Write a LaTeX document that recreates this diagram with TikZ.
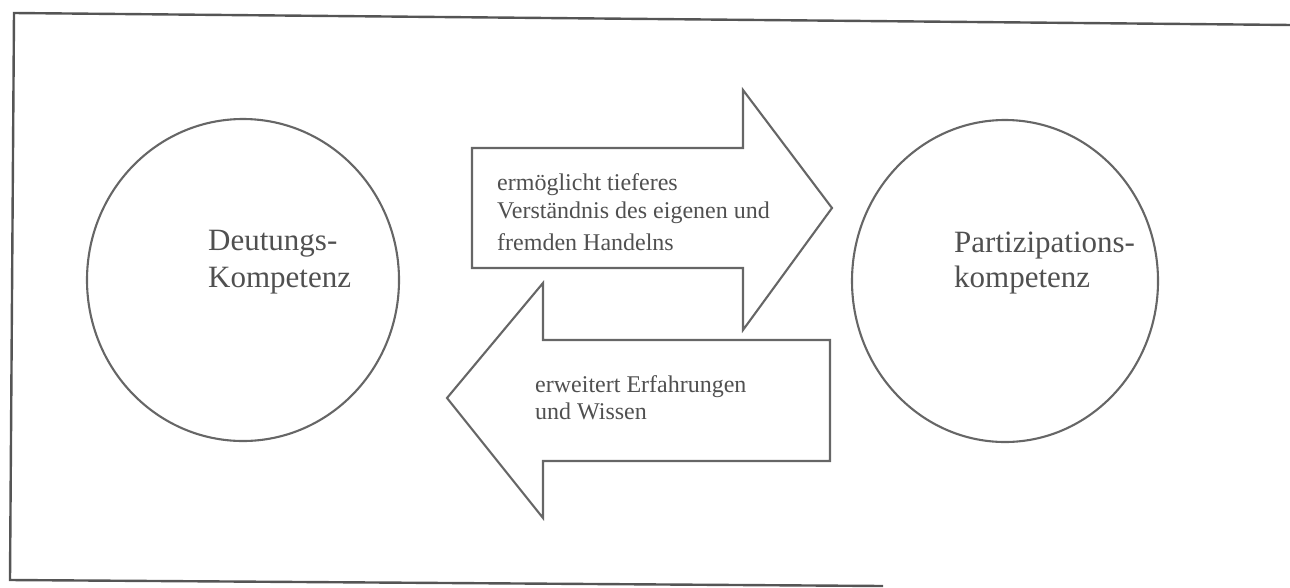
\documentclass[tikz,border=0pt]{standalone}
\usepackage{fontspec}
\setmainfont{Liberation Serif}
\definecolor{linegray}{HTML}{666666}
\definecolor{framegray}{HTML}{555555}
\definecolor{textgray}{HTML}{505050}
\begin{document}
\begin{tikzpicture}[x=1pt,y=-1pt,
  shapeline/.style={draw=linegray,line width=2.1pt,line join=miter},
  framel/.style={draw=framegray,line width=2.4pt},
  bigtext/.style={font=\fontsize{31}{36}\selectfont,text=textgray,anchor=base west,inner sep=0pt},
  smalltext/.style={font=\fontsize{24}{28}\selectfont,text=textgray,anchor=base west,inner sep=0pt}]
\useasboundingbox (0,0) rectangle (1290,587);
% frame
\coordinate (ftr) at (1292,25);
\coordinate (ftl) at (14,13);
\coordinate (fbl) at (10,580);
\coordinate (fbr) at (883,586);
\draw[framel] (ftr) -- (ftl) -- (fbl) -- (fbr);
% circles
\draw[shapeline] (243,280) ellipse [x radius=156, y radius=161];
\draw[shapeline] (1005,281) ellipse [x radius=153, y radius=161];
% right arrow
\draw[shapeline] (472,148) -- (743,148) -- (743,90) -- (832,208) -- (743,330) -- (743,268) -- (472,268) -- cycle;
% left arrow
\draw[shapeline] (447,398) -- (543,283) -- (543,340) -- (830,340) -- (830,461) -- (543,461) -- (543,518) -- cycle;
% texts
\node[bigtext] (d1) at (208,250) {Deutungs-};
\node[bigtext] (d2) at (208,287) {Kompetenz};
\node[bigtext] (p1) at (954,252) {Partizipations-};
\node[bigtext] (p2) at (954,287) {kompetenz};
\node[smalltext] (r1) at (497,190) {ermöglicht tieferes};
\node[smalltext] (r2) at (497,218) {Verständnis des eigenen und};
\node[smalltext] (r3) at (497,250) {fremden Handelns};
\node[smalltext] (l1) at (535,392) {erweitert Erfahrungen};
\node[smalltext] (l2) at (535,419) {und Wissen};
\end{tikzpicture}
\end{document}
